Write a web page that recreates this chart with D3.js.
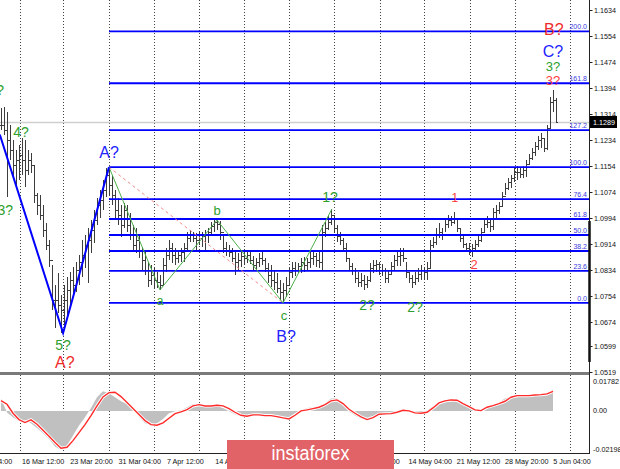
<!DOCTYPE html>
<html><head><meta charset="utf-8">
<script src="https://cdn.jsdelivr.net/npm/d3@7"></script>
<style>
body{margin:0;background:#fff}
svg{display:block}
text{font-family:"Liberation Sans",Arial,sans-serif}
</style>
</head><body>
<svg id="c" width="620" height="469"></svg>
<script>
// ---------- DATA ----------
const highs = [1.1333,1.1336,1.1320,1.1280,1.1234,1.1203,1.1218,1.1240,1.1234,1.1203,
1.1194,1.1157,1.1070,1.1064,1.1034,1.0978,1.0926,1.0849,1.0787,1.0824,
1.0757,1.0787,1.0812,1.0827,1.0843,1.0858,1.0880,1.0926,1.0941,1.0963,
1.0987,1.1018,1.1055,1.1080,1.1111,1.1148,1.1151,1.1126,1.1080,1.1055,
1.1034,1.1040,1.1034,1.1009,1.0972,1.0963,1.0941,1.0904,1.0895,1.0858,
1.0849,1.0839,1.0827,1.0818,1.0870,1.0901,1.0926,1.0916,1.0901,1.0895,
1.0901,1.0916,1.0951,1.0957,1.0951,1.0948,1.0951,1.0951,1.0957,1.0963,
1.0981,1.0994,1.0987,1.0984,1.0941,1.0920,1.0910,1.0901,1.0889,1.0886,
1.0895,1.0895,1.0895,1.0889,1.0877,1.0870,1.0886,1.0889,1.0870,1.0855,
1.0849,1.0833,1.0824,1.0803,1.0793,1.0812,1.0839,1.0858,1.0858,1.0855,
1.0870,1.0874,1.0870,1.0889,1.0895,1.0886,1.0895,1.0972,1.0981,1.1003,
1.1021,1.1003,1.0972,1.0951,1.0932,1.0916,1.0870,1.0855,1.0839,1.0827,
1.0824,1.0818,1.0815,1.0855,1.0864,1.0864,1.0858,1.0852,1.0839,1.0833,
1.0858,1.0880,1.0895,1.0901,1.0901,1.0858,1.0827,1.0818,1.0827,1.0839,
1.0849,1.0843,1.0858,1.0926,1.0935,1.0963,1.0978,1.0963,1.0994,1.1003,
1.1000,1.1012,1.0994,1.0963,1.0938,1.0916,1.0916,1.0913,1.0926,1.0938,
1.0963,1.0987,1.1000,1.0994,1.1024,1.1034,1.1043,1.1074,1.1101,1.1117,
1.1126,1.1148,1.1154,1.1148,1.1154,1.1172,1.1191,1.1209,1.1228,1.1246,
1.1255,1.1240,1.1280,1.1366,1.1388,1.1363];
const lows = [1.1265,1.1249,1.1058,1.1172,1.1117,1.1095,1.1111,1.1126,1.1089,1.1126,
1.1132,1.1040,1.1003,1.0987,1.0935,1.0895,1.0843,1.0710,1.0655,1.0701,
1.0639,1.0664,1.0695,1.0726,1.0751,1.0766,1.0787,1.0812,1.0839,1.0793,
1.0886,1.0916,1.0972,1.0994,1.1018,1.1058,1.1064,1.1034,1.0987,1.0972,
1.0935,1.0963,1.0951,1.0926,1.0889,1.0886,1.0870,1.0833,1.0818,1.0781,
1.0787,1.0778,1.0778,1.0772,1.0787,1.0827,1.0864,1.0855,1.0849,1.0855,
1.0858,1.0858,1.0895,1.0920,1.0920,1.0895,1.0910,1.0904,1.0895,1.0916,
1.0941,1.0951,1.0957,1.0926,1.0886,1.0877,1.0874,1.0858,1.0818,1.0833,
1.0843,1.0849,1.0855,1.0852,1.0833,1.0833,1.0843,1.0849,1.0827,1.0793,
1.0781,1.0772,1.0763,1.0741,1.0732,1.0751,1.0787,1.0809,1.0815,1.0824,
1.0824,1.0827,1.0833,1.0839,1.0849,1.0843,1.0839,1.0833,1.0935,1.0957,
1.0972,1.0948,1.0920,1.0910,1.0889,1.0858,1.0833,1.0818,1.0793,1.0781,
1.0781,1.0772,1.0778,1.0797,1.0824,1.0827,1.0818,1.0815,1.0793,1.0793,
1.0818,1.0833,1.0846,1.0846,1.0858,1.0809,1.0793,1.0778,1.0787,1.0797,
1.0803,1.0803,1.0803,1.0839,1.0901,1.0910,1.0932,1.0926,1.0951,1.0963,
1.0969,1.0975,1.0951,1.0920,1.0901,1.0889,1.0880,1.0874,1.0889,1.0904,
1.0920,1.0951,1.0963,1.0951,1.0957,1.0994,1.1006,1.1027,1.1064,1.1080,
1.1086,1.1105,1.1111,1.1117,1.1117,1.1120,1.1160,1.1172,1.1185,1.1203,
1.1209,1.1197,1.1203,1.1271,1.1320,1.1286];
const closes = [1.1280,1.1265,1.1234,1.1203,1.1157,1.1172,1.1188,1.1172,1.1141,1.1172,
1.1157,1.1064,1.1034,1.1003,1.0957,1.0910,1.0864,1.0741,1.0741,1.0726,
1.0710,1.0741,1.0772,1.0803,1.0787,1.0833,1.0858,1.0880,1.0910,1.0926,
1.0957,1.0987,1.1034,1.1049,1.1080,1.1126,1.1095,1.1064,1.1018,1.1003,
1.0972,1.1018,1.0972,1.0941,1.0910,1.0926,1.0895,1.0864,1.0833,1.0803,
1.0818,1.0803,1.0797,1.0787,1.0849,1.0880,1.0901,1.0880,1.0870,1.0880,
1.0889,1.0901,1.0932,1.0941,1.0932,1.0926,1.0932,1.0938,1.0941,1.0951,
1.0969,1.0981,1.0975,1.0951,1.0901,1.0895,1.0889,1.0870,1.0858,1.0864,
1.0877,1.0870,1.0880,1.0864,1.0849,1.0858,1.0870,1.0864,1.0839,1.0818,
1.0803,1.0797,1.0778,1.0766,1.0772,1.0787,1.0827,1.0839,1.0833,1.0846,
1.0858,1.0849,1.0858,1.0870,1.0877,1.0864,1.0858,1.0951,1.0963,1.0981,
1.1003,1.0963,1.0938,1.0926,1.0901,1.0870,1.0846,1.0833,1.0809,1.0797,
1.0803,1.0790,1.0803,1.0839,1.0849,1.0852,1.0833,1.0833,1.0809,1.0821,
1.0846,1.0864,1.0877,1.0880,1.0870,1.0827,1.0809,1.0797,1.0809,1.0821,
1.0833,1.0827,1.0839,1.0910,1.0920,1.0941,1.0951,1.0944,1.0975,1.0987,
1.0981,1.0994,1.0963,1.0932,1.0913,1.0901,1.0895,1.0901,1.0913,1.0926,
1.0951,1.0975,1.0981,1.0969,1.1012,1.1018,1.1031,1.1061,1.1086,1.1105,
1.1117,1.1135,1.1135,1.1129,1.1141,1.1160,1.1178,1.1197,1.1215,1.1234,
1.1240,1.1209,1.1271,1.1351,1.1357,1.1289];

// indicator, one value every 2 bars
const macd = [0.00629,-0.00085,-0.00323,-0.00527,-0.00493,-0.00629,-0.00867,-0.01139,-0.01429,-0.01820,
-0.01990,-0.01769,-0.01259,-0.00748,-0.00323,0.00153,0.00697,0.01003,0.00901,0.00697,
0.00493,0.00357,0.00102,-0.00289,-0.00629,-0.00714,-0.00629,-0.00408,-0.00119,-0.00017,
0.00017,0.00187,0.00357,0.00357,0.00289,0.00221,0.00255,0.00153,-0.00017,-0.00187,
-0.00272,-0.00289,-0.00204,-0.00204,-0.00272,-0.00238,-0.00323,-0.00391,-0.00323,-0.00119,
0.00017,0.00153,0.00187,0.00255,0.00391,0.00629,0.00629,0.00357,-0.00034,-0.00238,
-0.00391,-0.00459,-0.00323,-0.00170,-0.00119,-0.00119,-0.00017,0.00051,-0.00051,-0.00153,
-0.00102,0.00017,0.00255,0.00459,0.00544,0.00595,0.00595,0.00391,0.00153,-0.00017,
0.00051,0.00221,0.00323,0.00425,0.00629,0.00748,0.00765,0.00765,0.00782,0.00816,
0.00867,0.00918,0.01088];
const signal = [0.00527,0.00340,-0.00119,-0.00442,-0.00595,-0.00459,-0.00680,-0.00986,-0.01293,-0.01616,
-0.01905,-0.01854,-0.01514,-0.01105,-0.00697,-0.00238,0.00255,0.00714,0.00935,0.00952,
0.00731,0.00425,0.00119,-0.00187,-0.00493,-0.00697,-0.00731,-0.00612,-0.00374,-0.00136,
-0.00051,0.00068,0.00255,0.00323,0.00255,0.00255,0.00289,0.00255,0.00119,-0.00068,
-0.00221,-0.00272,-0.00204,-0.00204,-0.00238,-0.00238,-0.00289,-0.00357,-0.00408,-0.00221,
0.00000,0.00051,0.00119,0.00187,0.00323,0.00510,0.00561,0.00374,0.00085,-0.00119,
-0.00306,-0.00442,-0.00340,-0.00170,-0.00153,-0.00136,-0.00068,0.00034,0.00000,-0.00102,
-0.00119,-0.00068,0.00153,0.00408,0.00510,0.00561,0.00544,0.00374,0.00221,0.00051,
0.00017,0.00187,0.00272,0.00374,0.00493,0.00697,0.00782,0.00782,0.00782,0.00816,
0.00833,0.00867,0.01003];

const priceTicks = [1.1634,1.1554,1.1474,1.1394,1.1314,1.1234,1.1154,1.1074,1.0994,1.0914,1.0834,1.0754,1.0674,1.0599,1.0519];
const indTicks = [0.01782,0.00,-0.02198];
const timeLabels = ["9 Mar 04:00","16 Mar 12:00","23 Mar 20:00","31 Mar 04:00","7 Apr 12:00","14 Apr 20:00","22 Apr 04:00","29 Apr 12:00","6 May 20:00","14 May 04:00","21 May 12:00","28 May 20:00","5 Jun 04:00"];
const timeLabelIdx = [-9.0,7.0,23.1,39.2,55.3,71.4,87.5,103.6,119.7,135.8,151.9,168.0,184.1];
const gridIdx = [6.3,20.7,36,51,66,81,96,111,126.3,141,156.3,171.3,189.7];
const lastPrice = 1.1289;

const fibLevels = [0,23.6,38.2,50,61.8,76.4,100,127.2,161.8,200];
const fibLow = 1.0732, fibHigh = 1.1150, fibStartIdx = 36;

const waveBlue = [[-0.4,1.1250],[20.7,1.0639],[36,1.1150]];
const waveGreen = [[36,1.1150],[53,1.0772],[72,1.0987],[94,1.0732],[110.3,1.1021]];
const waveRedDash = [[36,1.1150],[94,1.0732]];

const G="#2e9e2e", B="#2222ff", R="#ee2b2b", R2="#ff4040";
const waveLabels = [
 {t:"2?",i:1,p:1.1372,c:G,s:14,a:"end"},
 {t:"3?",i:4,p:1.1003,c:G,s:14,a:"end"},
 {t:"4?",i:6.7,p:1.1243,c:G,s:14,a:"middle"},
 {t:"5?",i:20.7,p:1.0587,c:G,s:14,a:"middle"},
 {t:"A?",i:21.3,p:1.0532,c:R,s:16,a:"middle"},
 {t:"A?",i:36,p:1.1178,c:B,s:16,a:"middle"},
 {t:"a",i:53,p:1.0726,c:G,s:12,a:"middle"},
 {t:"b",i:72,p:1.1003,c:G,s:13,a:"middle"},
 {t:"c",i:94.3,p:1.0679,c:G,s:13,a:"middle"},
 {t:"B?",i:95,p:1.0612,c:B,s:16,a:"middle"},
 {t:"1?",i:109.7,p:1.1043,c:G,s:14,a:"middle"},
 {t:"2?",i:122,p:1.0710,c:G,s:14,a:"middle"},
 {t:"2?",i:138,p:1.0704,c:G,s:14,a:"middle"},
 {t:"1",i:151.3,p:1.1043,c:R2,s:12,a:"middle"},
 {t:"2",i:157.7,p:1.0837,c:R2,s:13,a:"middle"},
 {t:"3?",i:184,p:1.1403,c:R2,s:13,a:"middle"},
 {t:"3?",i:184,p:1.1446,c:G,s:13,a:"middle"},
 {t:"C?",i:184,p:1.1489,c:B,s:16,a:"middle"},
 {t:"B?",i:184.3,p:1.1557,c:R,s:16,a:"middle"}
];

// ---------- LAYOUT ----------
const W=620, H=469, AX=589.5;
const x = d3.scaleLinear().domain([0,185]).range([1,556]);
const y = d3.scaleLinear().domain([1.0519,1.1634]).range([372,10]);
const yi = d3.scaleLinear().domain([-0.02198,0.01782]).range([454,376]);
const wm = {x:227, y:440, w:167, h:29};

const svg = d3.select("#c");
svg.append("rect").attr("width",W).attr("height",H).attr("fill","#fff");
const defs = svg.append("defs");
defs.append("clipPath").attr("id","cm").append("rect").attr("x",0).attr("y",0).attr("width",589).attr("height",372);
defs.append("clipPath").attr("id","ci").append("rect").attr("x",0).attr("y",375).attr("width",589).attr("height",78);

const main = svg.append("g").attr("clip-path","url(#cm)");
const ind = svg.append("g").attr("clip-path","url(#ci)");

// grid
gridIdx.forEach(g=>{
  const gx = Math.round(x(g))+0.5;
  main.append("line").attr("x1",gx).attr("x2",gx).attr("y1",0).attr("y2",372)
    .attr("stroke","#444").attr("stroke-dasharray","1,2");
  ind.append("line").attr("x1",gx).attr("x2",gx).attr("y1",375).attr("y2",453)
    .attr("stroke","#444").attr("stroke-dasharray","1,2");
});

// last price line
main.append("line").attr("x1",0).attr("x2",589).attr("y1",Math.round(y(lastPrice))+0.5).attr("y2",Math.round(y(lastPrice))+0.5)
  .attr("stroke","#cfcfcf").attr("stroke-width",1.5);

// bars
const bars = main.append("g").attr("stroke","#3d3d3d").attr("stroke-width",1).attr("shape-rendering","crispEdges");
highs.forEach((h,i)=>{
  const bx = Math.round(x(i))+0.5;
  const o = i>0 ? closes[i-1] : closes[i];
  bars.append("line").attr("x1",bx).attr("x2",bx).attr("y1",y(h)).attr("y2",y(lows[i]));
  bars.append("line").attr("x1",bx-1.5).attr("x2",bx).attr("y1",Math.round(y(o))+0.5).attr("y2",Math.round(y(o))+0.5);
  bars.append("line").attr("x1",bx).attr("x2",bx+1.5).attr("y1",Math.round(y(closes[i]))+0.5).attr("y2",Math.round(y(closes[i]))+0.5);
});

// fibonacci
const fx0 = x(fibStartIdx);
fibLevels.forEach(l=>{
  const p = fibLow + l/100*(fibHigh-fibLow);
  const fy = y(p);
  main.append("line").attr("x1",fx0).attr("x2",589).attr("y1",fy).attr("y2",fy)
    .attr("stroke","#0000ff").attr("stroke-width",1.8);
  main.append("text").attr("x",587).attr("y",fy-2).attr("text-anchor","end")
    .attr("font-size",7).attr("fill","#3a3ae0").text(l.toFixed(1));
});

// wave lines
const ln = d3.line().x(d=>x(d[0])).y(d=>y(d[1]));
main.append("path").attr("d",ln(waveRedDash)).attr("fill","none").attr("stroke","#f08a8a").attr("stroke-width",1).attr("stroke-dasharray","3,3");
main.append("path").attr("d",ln(waveGreen)).attr("fill","none").attr("stroke","#4caf4c").attr("stroke-width",1);
main.append("path").attr("d",ln(waveBlue)).attr("fill","none").attr("stroke","#0000ff").attr("stroke-width",2);

// wave labels
waveLabels.forEach(d=>{
  main.append("text").attr("x",x(d.i)).attr("y",y(d.p)).attr("text-anchor",d.a)
    .attr("font-size",d.s).attr("fill",d.c).text(d.t);
});

// indicator
const ix = (d,k)=>x(2*k);
const area = d3.area().x(ix).y0(yi(0)).y1(d=>yi(d));
ind.append("path").attr("d",area(macd)).attr("fill","#c0c0c0");
const sl = d3.line().x(ix).y(d=>yi(d));
ind.append("path").attr("d",sl(signal)).attr("fill","none").attr("stroke","#fff").attr("stroke-width",3.2);
ind.append("path").attr("d",sl(signal)).attr("fill","none").attr("stroke","#ff2a2a").attr("stroke-width",1.4);

// separators & borders
svg.append("rect").attr("x",0).attr("y",372).attr("width",589).attr("height",3).attr("fill","#7a7a7a");
svg.append("line").attr("x1",0).attr("x2",589).attr("y1",453.5).attr("y2",453.5).attr("stroke","#222");
svg.append("line").attr("x1",AX).attr("x2",AX).attr("y1",0).attr("y2",454).attr("stroke","#222");
svg.append("line").attr("x1",AX).attr("x2",AX).attr("y1",y(1.0984)).attr("y2",y(1.0550)).attr("stroke","#111").attr("stroke-width",2.5);

// price axis
priceTicks.forEach(p=>{
  const ty = Math.round(y(p))+0.5;
  svg.append("line").attr("x1",AX).attr("x2",AX+3).attr("y1",ty).attr("y2",ty).attr("stroke","#222");
  svg.append("text").attr("x",594).attr("y",ty).attr("dy","0.35em").attr("font-size",7.2).attr("fill","#111").text(p.toFixed(4));
});
// current price box
const lpy = y(lastPrice);
svg.append("rect").attr("x",590).attr("y",lpy-6).attr("width",27).attr("height",12).attr("fill","#000");
svg.append("text").attr("x",593).attr("y",lpy).attr("dy","0.35em").attr("font-size",7.2).attr("fill","#fff").text(lastPrice.toFixed(4));

// indicator axis
indTicks.forEach((v,k)=>{
  let ty = yi(v);
  if(k===0) ty += 5; if(k===2) ty -= 5;
  svg.append("text").attr("x",593).attr("y",ty).attr("dy","0.35em").attr("font-size",7.2).attr("fill","#111")
    .text(v===0 ? "0.00" : v.toFixed(5));
});

// time axis (labels fully hidden behind the watermark are not drawn)
timeLabels.forEach((t,k)=>{
  const tx = x(timeLabelIdx[k]);
  if (tx > wm.x && tx + 42 < wm.x + wm.w) return;
  svg.append("text").attr("x",tx).attr("y",461).attr("dy","0.35em")
    .attr("font-size",7.2).attr("fill","#111").text(t);
});

// watermark
svg.append("rect").attr("x",wm.x).attr("y",wm.y).attr("width",wm.w).attr("height",wm.h).attr("fill","#e26367");
svg.append("text").attr("x",wm.x+wm.w/2).attr("y",460).attr("text-anchor","middle")
  .attr("font-family","'Open Sans', sans-serif").attr("font-size",20).attr("fill","#fff")
  .attr("textLength",78).attr("lengthAdjust","spacingAndGlyphs").text("instaforex");
</script>
</body></html>
